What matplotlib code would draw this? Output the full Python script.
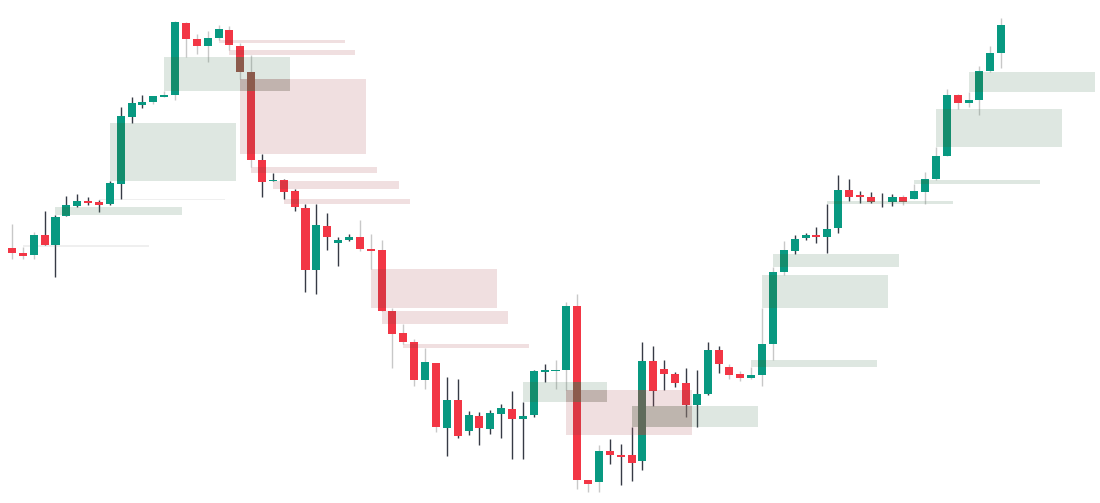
import numpy as np
import matplotlib.pyplot as plt
from matplotlib.patches import Rectangle

# OHLC (arbitrary price units)
opens = [252, 247, 245, 265, 255, 284, 294, 299, 298, 296, 316, 383, 395, 398, 403, 405,
         477, 461, 454, 462, 470, 454, 428, 340, 319, 320, 309, 292, 230, 274, 257, 260,
         263, 251, 250, 189, 167, 158, 120, 137, 72, 100, 69, 84, 71, 86, 91, 81, 85, 128,
         129, 130, 194, 20, 18, 49, 45, 45, 39, 139, 131, 126, 117, 95, 106, 150, 133, 126,
         122, 125, 156, 228, 249, 262, 265, 263, 272, 310, 305, 303, 301, 298, 303, 301,
         308, 321, 344, 405, 397, 400, 429, 447]
highs = [276, 253, 268, 289, 285, 304, 306, 303, 300, 319, 393, 403, 405, 404, 409, 479,
         478, 466, 469, 475, 474, 457, 445, 346, 327, 321, 311, 296, 296, 287, 263, 266,
         280, 266, 260, 192, 176, 161, 152, 137, 123, 121, 89, 88, 90, 96, 109, 98, 130, 136,
         140, 198, 206, 20, 55, 61, 56, 73, 158, 154, 140, 128, 132, 130, 158, 154, 136, 129,
         133, 192, 233, 259, 265, 267, 273, 296, 325, 321, 309, 308, 307, 306, 305, 316,
         328, 353, 411, 406, 408, 434, 454, 482]
lows = [241, 241, 241, 255, 223, 284, 293, 295, 288, 295, 301, 377, 392, 396, 403, 400,
        443, 446, 438, 460, 450, 421, 333, 303, 319, 301, 289, 208, 206, 250, 234, 259,
        249, 231, 189, 132, 156, 114, 111, 68, 44, 62, 65, 55, 66, 62, 41, 41, 83, 118,
        111, 110, 11, 8, 8, 36, 15, 19, 30, 94, 110, 113, 83, 73, 105, 127, 121, 119,
        121, 114, 140, 225, 246, 260, 257, 247, 267, 299, 297, 297, 293, 294, 295, 301,
        296, 320, 344, 391, 393, 385, 428, 432]
closes = [247, 244, 265, 255, 283, 295, 299, 297, 295, 317, 384, 397, 398, 404, 405, 478,
          461, 454, 462, 471, 455, 428, 340, 318, 320, 308, 293, 230, 275, 263, 260, 263,
          251, 249, 189, 166, 158, 120, 138, 73, 100, 64, 85, 72, 87, 92, 81, 84, 129, 130,
          130, 194, 20, 16, 49, 45, 43, 37, 139, 109, 126, 117, 95, 106, 150, 136, 125, 122,
          125, 156, 228, 250, 261, 265, 263, 271, 310, 303, 303, 298, 301, 303, 298, 309,
          321, 344, 405, 397, 400, 429, 447, 475]
# 1 = faint grey wick, 0 = dark wick
dim_wick = [1, 1, 1,
            0, 0, 0, 0, 0, 0, 0, 0, 0, 0,
            1, 1, 1, 1, 1, 1, 1, 1, 1, 1,
            0, 0, 0, 0, 0, 0, 0, 0, 0,
            1, 1, 1, 1, 1, 1, 1, 1,
            0, 0, 0, 0, 0, 0, 0, 0, 0, 0,
            1, 1, 1, 1, 1,
            0, 0, 0, 0, 0, 0, 0, 0, 0, 0, 0,
            1, 1, 1, 1, 1, 1,
            0, 0, 0, 0, 0, 0, 0, 0, 0, 0,
            1, 1, 1, 1, 1, 1, 1, 1, 1, 1]

# fair value gaps: first bar, length in bars, top, bottom, side
fvg_start = [1, 4, 8, 9, 14, 19, 20, 21, 22, 24, 25, 33, 34, 36, 47, 51, 57, 68, 69, 70, 75, 83, 85, 88]
fvg_len = [11.6] * 14 + [7.7] + [11.6] * 9
fvg_top = [255, 293, 301, 377, 443, 460, 450, 421, 333, 319, 301, 231, 189, 156, 118, 110, 94, 140,
           225, 246, 299, 320, 391, 428]
fvg_bottom = [253, 285, 300, 319, 409, 457, 445, 346, 327, 311, 296, 192, 176, 152, 98, 65, 73, 133,
              192, 233, 296, 316, 353, 408]
fvg_side = ['bull'] * 5 + ['bear'] * 9 + ['bull', 'bear'] + ['bull'] * 8

GREEN = '#089981'
RED = '#f23645'
BOX = {'bull': '#5c8a6a', 'bear': '#b45f64'}
# body colour where a candle sits inside a gap box
TINT = {('bull', 'bull'): '#148d6d', ('bear', 'bear'): '#dc3844',
        ('bear', 'bull'): '#8c5b4c', ('bull', 'bear'): '#5f6b5b'}

fig = plt.figure(figsize=(11, 5.03), dpi=100)
ax = fig.add_axes([0, 0, 1, 1])
ax.set_xlim(-1.104, 100.09)
ax.set_ylim(-3, 500)
ax.axis('off')

n = len(opens)
x = np.arange(n)
bw = 0.74
o = np.array(opens, float)
c = np.array(closes, float)
up = c >= o
wick_col = ['#c8c8c8' if d else '#363a45' for d in dim_wick]
ax.vlines(x, lows, highs, colors=wick_col, lw=1.0, zorder=1)

bot = np.minimum(o, c)
hgt = np.abs(c - o)
ax.bar(x, hgt, bw, bottom=bot, color=[GREEN if u else RED for u in up], linewidth=0, zorder=4)

# gap boxes
boxes = []
for s, ln, t, b, side in zip(fvg_start, fvg_len, fvg_top, fvg_bottom, fvg_side):
    faint = (t - b) <= 2
    ax.add_patch(Rectangle((s, b), ln, t - b, facecolor=BOX[side] if not faint else '#9a9a9a',
                           alpha=0.2 if not faint else 0.15, linewidth=0, zorder=2))
    boxes.append((s, s + ln, b, t, side))

# where a bullish and a bearish box overlap
for bx in boxes:
    for by in boxes:
        if bx[4] == 'bull' and by[4] == 'bear':
            x0, x1 = max(bx[0], by[0]), min(bx[1], by[1])
            y0, y1 = max(bx[2], by[2]), min(bx[3], by[3])
            if x1 > x0 and y1 > y0:
                ax.add_patch(Rectangle((x0, y0), x1 - x0, y1 - y0, facecolor='#937d73',
                                       alpha=0.3, linewidth=0, zorder=3))

# tint candle bodies inside boxes (opposite colour drawn last)
for same in (True, False):
    for bx0, bx1, by0, by1, side in boxes:
        if by1 - by0 <= 2:
            continue
        for i in range(n):
            cside = 'bull' if up[i] else 'bear'
            if (cside == side) != same:
                continue
            x0, x1 = max(i - bw / 2, bx0), min(i + bw / 2, bx1)
            y0, y1 = max(bot[i], by0), min(bot[i] + hgt[i], by1)
            if x1 > x0 and y1 > y0:
                ax.add_patch(Rectangle((x0, y0), x1 - x0, y1 - y0, facecolor=TINT[(cside, side)],
                                       linewidth=0, zorder=5 if same else 6))

plt.savefig('out.png', dpi=100)
